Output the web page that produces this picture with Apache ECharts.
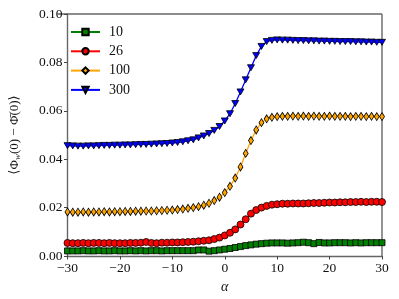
<!DOCTYPE html>
<html>
<head>
<meta charset="utf-8">
<script src="https://cdn.jsdelivr.net/npm/echarts@6/dist/echarts.min.js"></script>
<style>html,body{margin:0;padding:0;background:#fff}#c{width:399px;height:299px}</style>
</head>
<body>
<div id="c"></div>
<script>
var alpha = [-30,-29,-28,-27,-26,-25,-24,-23,-22,-21,-20,-19,-18,-17,-16,-15,-14,-13,-12,-11,-10,-9,-8,-7,-6,-5,-4,-3,-2,-1,0,1,2,3,4,5,6,7,8,9,10,11,12,13,14,15,16,17,18,19,20,21,22,23,24,25,26,27,28,29,30];
var seriesNames = ['10','26','100','300'];
var s10 = [0.0021,0.0021,0.0021,0.0022,0.0021,0.0021,0.0022,0.0021,0.0021,0.0022,0.0021,0.0021,0.0022,0.0021,0.0022,0.0021,0.0022,0.0022,0.0021,0.0022,0.0022,0.0022,0.0022,0.0022,0.0022,0.0025,0.0025,0.0020,0.0022,0.0025,0.0028,0.0031,0.0035,0.0039,0.0043,0.0046,0.0049,0.0051,0.0053,0.0054,0.0054,0.0054,0.0053,0.0054,0.0055,0.0057,0.0055,0.0051,0.0056,0.0054,0.0054,0.0055,0.0055,0.0055,0.0054,0.0055,0.0054,0.0055,0.0055,0.0055,0.0055];
var s26 = [0.0054,0.0053,0.0053,0.0054,0.0053,0.0054,0.0054,0.0053,0.0054,0.0053,0.0053,0.0053,0.0054,0.0054,0.0055,0.0058,0.0054,0.0053,0.0055,0.0055,0.0056,0.0056,0.0057,0.0058,0.0059,0.0061,0.0063,0.0065,0.0070,0.0076,0.0085,0.0096,0.0110,0.0130,0.0152,0.0175,0.0190,0.0200,0.0207,0.0212,0.0214,0.0216,0.0216,0.0217,0.0217,0.0217,0.0218,0.0219,0.0219,0.0220,0.0221,0.0221,0.0222,0.0222,0.0223,0.0223,0.0224,0.0223,0.0224,0.0224,0.0223];
var s100 = [0.0182,0.0181,0.0181,0.0182,0.0181,0.0182,0.0182,0.0183,0.0182,0.0183,0.0183,0.0184,0.0184,0.0185,0.0185,0.0186,0.0186,0.0187,0.0188,0.0189,0.0190,0.0192,0.0194,0.0197,0.0200,0.0204,0.0210,0.0218,0.0229,0.0243,0.0262,0.0288,0.0322,0.0368,0.0424,0.0477,0.0521,0.0551,0.0567,0.0573,0.0576,0.0577,0.0577,0.0578,0.0577,0.0578,0.0577,0.0578,0.0577,0.0577,0.0578,0.0577,0.0577,0.0577,0.0576,0.0577,0.0577,0.0576,0.0577,0.0576,0.0576];
var s300 = [0.0456,0.0455,0.0454,0.0454,0.0455,0.0455,0.0456,0.0457,0.0457,0.0458,0.0458,0.0459,0.0459,0.0460,0.0461,0.0461,0.0462,0.0463,0.0464,0.0465,0.0467,0.0469,0.0472,0.0476,0.0480,0.0488,0.0496,0.0506,0.0519,0.0535,0.0558,0.0588,0.0630,0.0678,0.0728,0.0778,0.0828,0.0866,0.0886,0.0891,0.0893,0.0892,0.0892,0.0891,0.0890,0.0890,0.0889,0.0889,0.0888,0.0888,0.0887,0.0887,0.0886,0.0886,0.0886,0.0885,0.0885,0.0884,0.0884,0.0883,0.0883];
var xTicks = [-30,-20,-10,0,10,20,30];
var yTicks = [0.00,0.02,0.04,0.06,0.08,0.10];

function pairs(v){ return alpha.map(function(a,i){ return [a, v[i]]; }); }
var FONT = '"Liberation Serif","DejaVu Serif",serif';
var chart = echarts.init(document.getElementById('c'), null, {renderer:'canvas'});
function mk(name, data, color, symbol, size, rotate){
  return {
    name: name, type: 'line', data: pairs(data),
    symbol: symbol, symbolSize: size, symbolRotate: rotate || 0,
    showAllSymbol: true, animation: false,
    lineStyle: {color: color, width: 1.3},
    itemStyle: {color: color, borderColor: '#000', borderWidth: 0.8},
    emphasis: {disabled: true}
  };
}
var minus = function(v){ return v < 0 ? '\u2212' + Math.abs(v) : String(v); };
chart.setOption({
  animation: false,
  grid: {left: 57.5, right: 17, top: 14, bottom: 43, show: false},
  legend: {
    orient: 'vertical', left: 65, top: 20, itemWidth: 29, itemHeight: 8, itemGap: 5.3,
    textStyle: {fontFamily: FONT, fontSize: 14, color: '#111', padding: [0,0,0,4]},
    data: seriesNames
  },
  xAxis: {
    type: 'value', min: -30, max: 30, interval: 10,
    name: '\u03b1', nameLocation: 'middle', nameGap: 23,
    nameTextStyle: {fontFamily: FONT, fontSize: 14, fontStyle: 'italic', color: '#111'},
    axisLine: {show: true, onZero: false, lineStyle: {color: '#666', width: 1.4}},
    axisTick: {show: true, length: 3.5, lineStyle: {color: '#444'}},
    axisLabel: {fontFamily: FONT, fontSize: 13.5, color: '#111', margin: 5, formatter: minus},
    splitLine: {show: false}
  },
  yAxis: {
    type: 'value', min: 0, max: 0.1, interval: 0.02,
    name: '{a|\u27e8\u03a6}{s|w}{a|(0) \u2212 \u03a6\u0304(0)\u27e9}',
    nameLocation: 'middle', nameGap: 45, nameRotate: 90,
    nameTextStyle: {fontFamily: FONT, fontSize: 13, color: '#111',
      rich: {a: {fontFamily: FONT, fontSize: 13, color: '#111', lineHeight: 16},
             s: {fontFamily: FONT, fontSize: 9, fontStyle: 'italic', color: '#111', verticalAlign: 'bottom', lineHeight: 16}}},
    axisLine: {show: true, onZero: false, lineStyle: {color: '#666', width: 1.4}},
    axisTick: {show: true, length: 3.5, lineStyle: {color: '#444'}},
    axisLabel: {fontFamily: FONT, fontSize: 13.5, color: '#111', margin: 5, formatter: function(v){ return v.toFixed(2); }},
    splitLine: {show: false}
  },
  series: [
    mk('10', s10, '#008000', 'rect', 6),
    mk('26', s26, '#ff0000', 'circle', 7),
    mk('100', s100, '#ffa500', 'diamond', [5,8]),
    mk('300', s300, '#0000ff', 'triangle', [7,6], 180)
  ],
  graphic: [
    {type: 'line', shape: {x1: 57.5, y1: 14, x2: 382, y2: 14}, style: {stroke: '#666', lineWidth: 1.4}, silent: true},
    {type: 'line', shape: {x1: 382, y1: 14, x2: 382, y2: 256}, style: {stroke: '#666', lineWidth: 1.4}, silent: true}
  ]
});
</script>
</body>
</html>
